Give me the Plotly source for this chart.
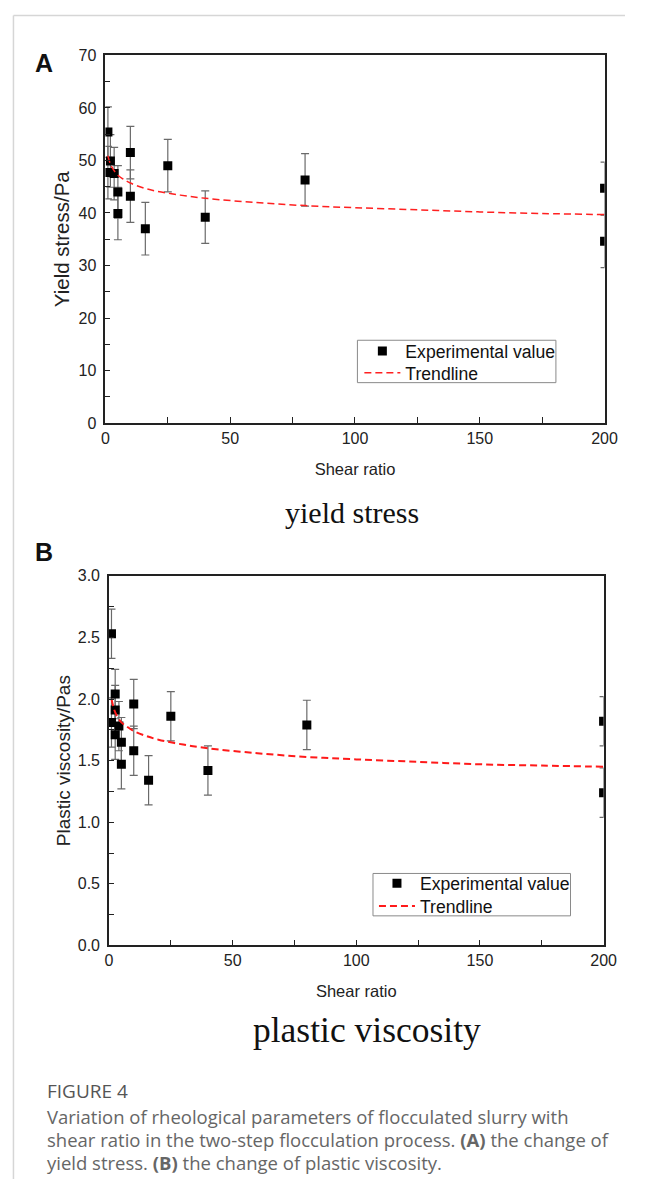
import plotly.graph_objects as go

# ---------------- data ----------------
# Panel A: yield stress
a_shear = [1, 1, 2, 3.5, 5, 5, 10, 10, 16, 25, 40, 80, 200, 200]
a_yield = [55.4, 47.7, 49.9, 47.5, 44.0, 39.9, 51.5, 43.2, 37.0, 49.0, 39.2, 46.3, 44.7, 34.6]
a_err = [4.8, 5, 5, 5, 5, 5, 5, 5, 5, 5, 5, 5, 5, 5]
a_trend_x = [1, 2, 3, 5, 7, 10, 15, 20, 30, 40, 60, 80, 100, 125, 150, 175, 200]
a_trend_y = [50.9, 49.3, 48.4, 47.2, 46.5, 45.7, 44.8, 44.2, 43.4, 42.8, 42.0, 41.4, 41.0, 40.6, 40.2, 39.9, 39.7]

# Panel B: plastic viscosity
b_shear = [1, 1, 2.5, 2.5, 2.5, 4, 5, 5, 10, 10, 16, 25, 40, 80, 200, 200]
b_visc = [2.53, 1.81, 2.04, 1.91, 1.71, 1.78, 1.65, 1.47, 1.96, 1.58, 1.34, 1.86, 1.42, 1.79, 1.82, 1.24]
b_err = [0.2] * 16
b_trend_x = [1, 2, 3, 5, 7, 10, 15, 20, 30, 40, 60, 80, 100, 125, 150, 175, 200]
b_trend_y = [2.00, 1.92, 1.87, 1.81, 1.78, 1.74, 1.70, 1.67, 1.63, 1.60, 1.56, 1.53, 1.51, 1.49, 1.47, 1.46, 1.45]

x_ticks = [0, 50, 100, 150, 200]
a_y_ticks = [0, 10, 20, 30, 40, 50, 60, 70]
b_y_ticks = [0.0, 0.5, 1.0, 1.5, 2.0, 2.5, 3.0]

caption_title = "FIGURE 4"
caption_lines = [
    "Variation of rheological parameters of flocculated slurry with",
    "shear ratio in the two-step flocculation process. <b>(A)</b> the change of",
    "yield stress. <b>(B)</b> the change of plastic viscosity.",
]

# ---------------- figure ----------------
# page body keeps its default 8px margin, so the figure is 630x1180 placed at (8, 8)
OFF = 8
W, H = 646 - 2 * OFF, 1196 - 2 * OFF
def px(x):
    return (x - OFF) / W
def py(y):
    return 1 - (y - OFF) / H

SANS = "Liberation Sans, Arial, sans-serif"
SERIF = "Liberation Serif, Times New Roman, serif"
CAP = "Open Sans, Noto Sans, sans-serif"
AX = "#222222"
ERR = "#6a6a6a"
LEGFONT = dict(family=SANS, size=17.6, color="#111")

fig = go.Figure()

fig.add_trace(go.Scatter(
    x=a_shear, y=a_yield, mode="markers", name="Experimental value",
    marker=dict(symbol="square", size=9, color="black"),
    error_y=dict(type="data", array=a_err, color=ERR, thickness=1.2, width=4),
    xaxis="x", yaxis="y", legend="legend",
))
fig.add_trace(go.Scatter(
    x=a_trend_x, y=a_trend_y, mode="lines", name="Trendline",
    line=dict(color="#ff2020", width=1.5, dash="7px,4px", shape="spline"),
    xaxis="x", yaxis="y", legend="legend2",
))
fig.add_trace(go.Scatter(
    x=b_shear, y=b_visc, mode="markers", name="Experimental value",
    marker=dict(symbol="square", size=9, color="black"),
    error_y=dict(type="data", array=b_err, color=ERR, thickness=1.2, width=4),
    xaxis="x2", yaxis="y2", legend="legend3",
))
fig.add_trace(go.Scatter(
    x=b_trend_x, y=b_trend_y, mode="lines", name="Trendline",
    line=dict(color="#ff1a1a", width=2, dash="7px,4px", shape="spline"),
    xaxis="x2", yaxis="y2", legend="legend4",
))

def xaxis(domain, anchor):
    return dict(
        domain=domain, anchor=anchor, range=[0, 200], tickvals=x_ticks,
        showline=True, linecolor=AX, linewidth=1.6, mirror=True,
        ticks="inside", ticklen=6, tickwidth=1.2, tickcolor=AX,
        minor=dict(dtick=25, ticks="inside", ticklen=6, tickwidth=1.2, tickcolor=AX),
        showgrid=False, zeroline=False,
        tickfont=dict(family=SANS, size=16, color="#222"),
        title=dict(text="Shear ratio", font=dict(family=SANS, size=16.5, color="#222"), standoff=17),
    )

def yaxis(domain, anchor, rng, tv, dt, title, fmt, standoff, tsize):
    return dict(
        domain=domain, anchor=anchor, range=rng, tickvals=tv, tickformat=fmt,
        showline=True, linecolor=AX, linewidth=1.6, mirror=True,
        ticks="inside", ticklen=5, tickwidth=1.2, tickcolor=AX,
        minor=dict(dtick=dt, ticks="inside", ticklen=5, tickwidth=1.2, tickcolor=AX),
        showgrid=False, zeroline=False,
        tickfont=dict(family=SANS, size=16, color="#222"),
        ticklabelstandoff=4,
        title=dict(text=title, font=dict(family=SANS, size=tsize, color="#222"), standoff=standoff),
    )

def leg(xl, yc):
    return dict(x=px(xl), y=py(yc), xanchor="left", yanchor="middle",
                borderwidth=0, bgcolor="rgba(0,0,0,0)", font=LEGFONT,
                itemwidth=36, tracegroupgap=0)

fig.update_layout(
    width=W, height=H, margin=dict(l=0, r=0, t=0, b=0), autosize=False,
    paper_bgcolor="white", plot_bgcolor="white",
    xaxis=xaxis([px(104), px(617)], "y"),
    yaxis=yaxis([py(421), py(48)], "x", [0, 70], a_y_ticks, 5, "Yield stress/Pa", "d", 3, 20.5),
    xaxis2=xaxis([px(107.7), px(616)], "y2"),
    yaxis2=yaxis([py(951), py(576)], "x2", [0, 3], b_y_ticks, 0.25, "Plastic viscosity/Pas", ".1f", 2, 19),
    legend=leg(365, 348),
    legend2=leg(365, 370),
    legend3=leg(380, 888),
    legend4=leg(380, 911),
    showlegend=True,
)

# legend frames
fig.add_shape(type="rect", xref="paper", yref="paper", x0=px(363), x1=px(567), y0=py(380), y1=py(337),
              line=dict(color="#8a8a8a", width=1))
fig.add_shape(type="rect", xref="paper", yref="paper", x0=px(379), x1=px(582), y0=py(921), y1=py(878),
              line=dict(color="#8a8a8a", width=1))

ann = []
ann.append(dict(text="<b>A</b>", x=px(41), y=py(56), font=dict(family=SANS, size=25, color="#111")))
ann.append(dict(text="<b>B</b>", x=px(41), y=py(552), font=dict(family=SANS, size=25, color="#111")))
ann.append(dict(text="yield stress", x=px(357), y=py(512), font=dict(family=SERIF, size=30, color="#111")))
ann.append(dict(text="plastic viscosity", x=px(373), y=py(1037), font=dict(family=SERIF, size=35.5, color="#111")))
ann.append(dict(text=caption_title, x=px(42), y=py(1099), xanchor="left",
                font=dict(family=CAP, size=19, color="#555")))
for i, line in enumerate(caption_lines):
    ann.append(dict(text=line, x=px(42), y=py(1125 + 23 * i), xanchor="left",
                    font=dict(family=CAP, size=18.5, color="#666")))
for a in ann:
    a.setdefault("xanchor", "center")
    a.update(xref="paper", yref="paper", yanchor="middle", showarrow=False)
fig.update_layout(annotations=ann)

# page frame lines
fig.add_shape(type="line", xref="paper", yref="paper", x0=px(9.5), x1=1, y0=py(7.5), y1=py(7.5),
              line=dict(color="#d6d6d6", width=1.5))
fig.add_shape(type="line", xref="paper", yref="paper", x0=px(9.5), x1=px(9.5), y0=0, y1=py(7.5),
              line=dict(color="#d6d6d6", width=1.5))

fig.write_html("out.html", config={"displayModeBar": False, "responsive": False})
